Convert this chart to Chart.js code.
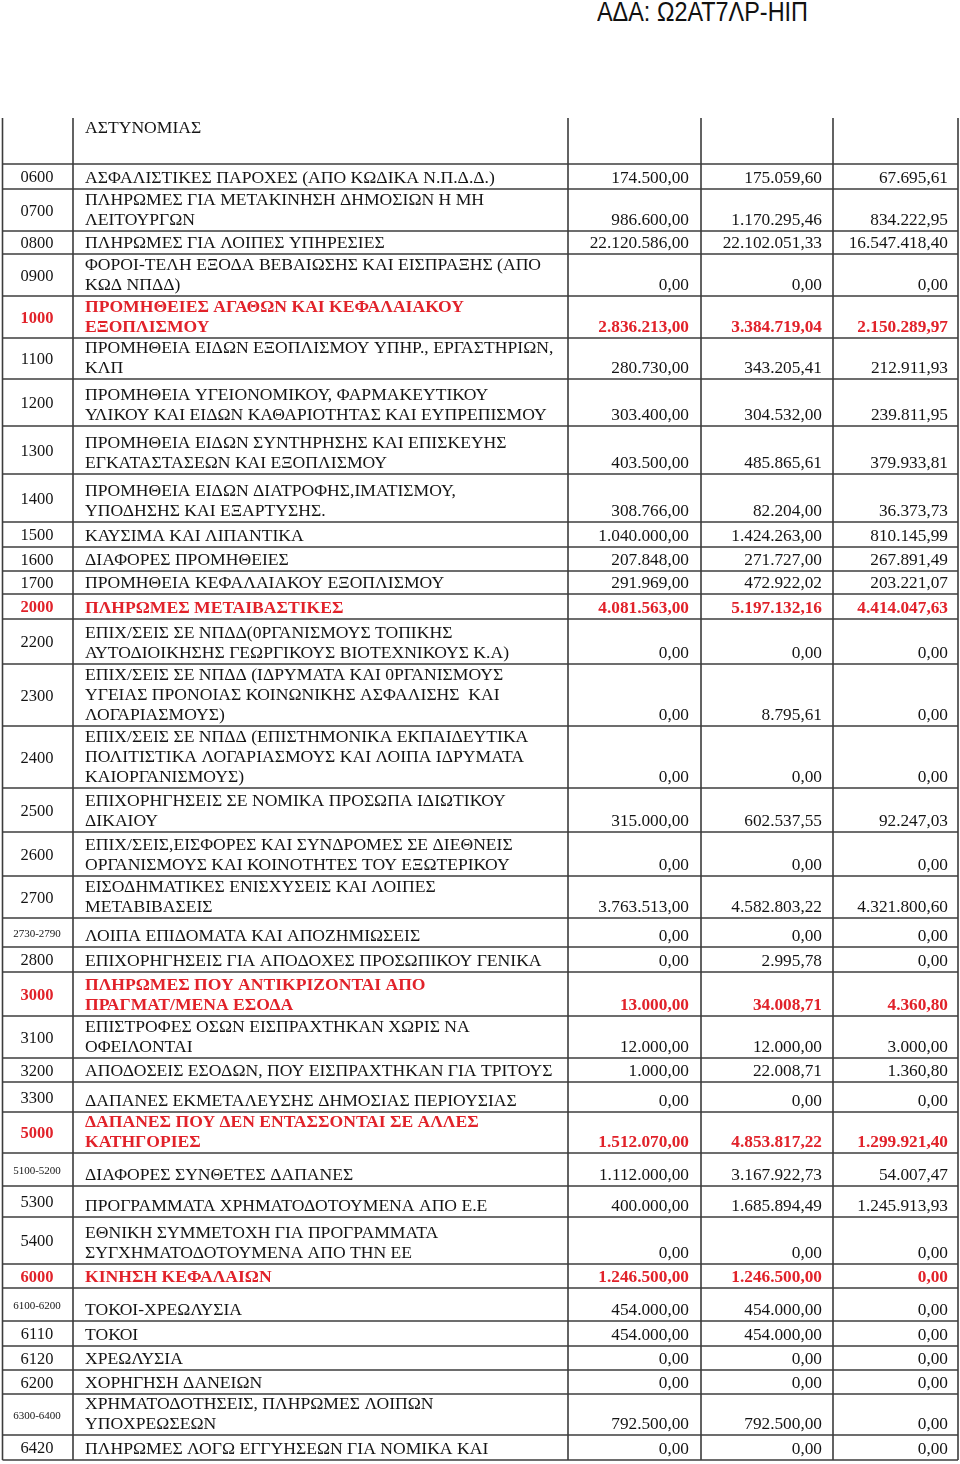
<!DOCTYPE html>
<html>
<head>
<meta charset="utf-8">
<script src="https://cdn.jsdelivr.net/npm/chart.js@4/dist/chart.umd.min.js"></script>
<style>
  html, body { margin: 0; padding: 0; background: #fff; }
  body { width: 960px; height: 1464px; position: relative; overflow: hidden; }
  #ada { position: absolute; left: 597px; top: -3px; font-family: "Liberation Sans", Arial, sans-serif;
         font-size: 27px; color: #111; white-space: nowrap; transform-origin: 0 0; }
  #wrap { position: absolute; left: 0; top: 118px; width: 960px; height: 1344px; }
</style>
</head>
<body>
<div id="ada">ΑΔΑ: Ω2ΑΤ7ΛΡ-ΗΙΠ</div>
<div id="wrap"><canvas id="tableChart" width="960" height="1344"></canvas></div>
<script>
// κωδικοί γραμμών
var codes = ['', '0600', '0700', '0800', '0900', '1000', '1100', '1200', '1300', '1400', '1500', '1600', '1700',
    '2000', '2200', '2300', '2400', '2500', '2600', '2700', '2730-2790', '2800', '3000', '3100', '3200', '3300',
    '5000', '5100-5200', '5300', '5400', '6000', '6100-6200', '6110', '6120', '6200', '6300-6400', '6420'];

var descriptions = [
    ['ΑΣΤΥΝΟΜΙΑΣ'],
    ['ΑΣΦΑΛΙΣΤΙΚΕΣ ΠΑΡΟΧΕΣ (ΑΠΟ ΚΩΔΙΚΑ Ν.Π.Δ.Δ.)'],
    ['ΠΛΗΡΩΜΕΣ ΓΙΑ ΜΕΤΑΚΙΝΗΣΗ ΔΗΜΟΣΙΩΝ Η ΜΗ', 'ΛΕΙΤΟΥΡΓΩΝ'],
    ['ΠΛΗΡΩΜΕΣ ΓΙΑ ΛΟΙΠΕΣ ΥΠΗΡΕΣΙΕΣ'],
    ['ΦΟΡΟΙ-ΤΕΛΗ ΕΞΟΔΑ ΒΕΒΑΙΩΣΗΣ ΚΑΙ ΕΙΣΠΡΑΞΗΣ (ΑΠΟ', 'ΚΩΔ ΝΠΔΔ)'],
    ['ΠΡΟΜΗΘΕΙΕΣ ΑΓΑΘΩΝ ΚΑΙ ΚΕΦΑΛΑΙΑΚΟΥ', 'ΕΞΟΠΛΙΣΜΟΥ'],
    ['ΠΡΟΜΗΘΕΙΑ ΕΙΔΩΝ ΕΞΟΠΛΙΣΜΟΥ ΥΠΗΡ., ΕΡΓΑΣΤΗΡΙΩΝ,', 'ΚΛΠ'],
    ['ΠΡΟΜΗΘΕΙΑ ΥΓΕΙΟΝΟΜΙΚΟΥ, ΦΑΡΜΑΚΕΥΤΙΚΟΥ', 'ΥΛΙΚΟΥ ΚΑΙ ΕΙΔΩΝ ΚΑΘΑΡΙΟΤΗΤΑΣ ΚΑΙ ΕΥΠΡΕΠΙΣΜΟΥ'],
    ['ΠΡΟΜΗΘΕΙΑ ΕΙΔΩΝ ΣΥΝΤΗΡΗΣΗΣ ΚΑΙ ΕΠΙΣΚΕΥΗΣ', 'ΕΓΚΑΤΑΣΤΑΣΕΩΝ ΚΑΙ ΕΞΟΠΛΙΣΜΟΥ'],
    ['ΠΡΟΜΗΘΕΙΑ ΕΙΔΩΝ ΔΙΑΤΡΟΦΗΣ,ΙΜΑΤΙΣΜΟΥ,', 'ΥΠΟΔΗΣΗΣ ΚΑΙ ΕΞΑΡΤΥΣΗΣ.'],
    ['ΚΑΥΣΙΜΑ ΚΑΙ ΛΙΠΑΝΤΙΚΑ'],
    ['ΔΙΑΦΟΡΕΣ ΠΡΟΜΗΘΕΙΕΣ'],
    ['ΠΡΟΜΗΘΕΙΑ ΚΕΦΑΛΑΙΑΚΟΥ ΕΞΟΠΛΙΣΜΟΥ'],
    ['ΠΛΗΡΩΜΕΣ ΜΕΤΑΙΒΑΣΤΙΚΕΣ'],
    ['ΕΠΙΧ/ΣΕΙΣ ΣΕ ΝΠΔΔ(0ΡΓΑΝΙΣΜΟΥΣ ΤΟΠΙΚΗΣ', 'ΑΥΤΟΔΙΟΙΚΗΣΗΣ ΓΕΩΡΓΙΚΟΥΣ ΒΙΟΤΕΧΝΙΚΟΥΣ Κ.Α)'],
    ['ΕΠΙΧ/ΣΕΙΣ ΣΕ ΝΠΔΔ (ΙΔΡΥΜΑΤΑ ΚΑΙ 0ΡΓΑΝΙΣΜΟΥΣ', 'ΥΓΕΙΑΣ ΠΡΟΝΟΙΑΣ ΚΟΙΝΩΝΙΚΗΣ ΑΣΦΑΛΙΣΗΣ  ΚΑΙ', 'ΛΟΓΑΡΙΑΣΜΟΥΣ)'],
    ['ΕΠΙΧ/ΣΕΙΣ ΣΕ ΝΠΔΔ (ΕΠΙΣΤΗΜΟΝΙΚΑ ΕΚΠΑΙΔΕΥΤΙΚΑ', 'ΠΟΛΙΤΙΣΤΙΚΑ ΛΟΓΑΡΙΑΣΜΟΥΣ ΚΑΙ ΛΟΙΠΑ ΙΔΡΥΜΑΤΑ', 'ΚΑΙΟΡΓΑΝΙΣΜΟΥΣ)'],
    ['ΕΠΙΧΟΡΗΓΗΣΕΙΣ ΣΕ ΝΟΜΙΚΑ ΠΡΟΣΩΠΑ ΙΔΙΩΤΙΚΟΥ', 'ΔΙΚΑΙΟΥ'],
    ['ΕΠΙΧ/ΣΕΙΣ,ΕΙΣΦΟΡΕΣ ΚΑΙ ΣΥΝΔΡΟΜΕΣ ΣΕ ΔΙΕΘΝΕΙΣ', 'ΟΡΓΑΝΙΣΜΟΥΣ ΚΑΙ ΚΟΙΝΟΤΗΤΕΣ ΤΟΥ ΕΞΩΤΕΡΙΚΟΥ'],
    ['ΕΙΣΟΔΗΜΑΤΙΚΕΣ ΕΝΙΣΧΥΣΕΙΣ ΚΑΙ ΛΟΙΠΕΣ', 'ΜΕΤΑΒΙΒΑΣΕΙΣ'],
    ['ΛΟΙΠΑ ΕΠΙΔΟΜΑΤΑ ΚΑΙ ΑΠΟΖΗΜΙΩΣΕΙΣ'],
    ['ΕΠΙΧΟΡΗΓΗΣΕΙΣ ΓΙΑ ΑΠΟΔΟΧΕΣ ΠΡΟΣΩΠΙΚΟΥ ΓΕΝΙΚΑ'],
    ['ΠΛΗΡΩΜΕΣ ΠΟΥ ΑΝΤΙΚΡΙΖΟΝΤΑΙ ΑΠΟ', 'ΠΡΑΓΜΑΤ/ΜΕΝΑ ΕΣΟΔΑ'],
    ['ΕΠΙΣΤΡΟΦΕΣ ΟΣΩΝ ΕΙΣΠΡΑΧΤΗΚΑΝ ΧΩΡΙΣ ΝΑ', 'ΟΦΕΙΛΟΝΤΑΙ'],
    ['ΑΠΟΔΟΣΕΙΣ ΕΣΟΔΩΝ, ΠΟΥ ΕΙΣΠΡΑΧΤΗΚΑΝ ΓΙΑ ΤΡΙΤΟΥΣ'],
    ['ΔΑΠΑΝΕΣ ΕΚΜΕΤΑΛΕΥΣΗΣ ΔΗΜΟΣΙΑΣ ΠΕΡΙΟΥΣΙΑΣ'],
    ['ΔΑΠΑΝΕΣ ΠΟΥ ΔΕΝ ΕΝΤΑΣΣΟΝΤΑΙ ΣΕ ΑΛΛΕΣ', 'ΚΑΤΗΓΟΡΙΕΣ'],
    ['ΔΙΑΦΟΡΕΣ ΣΥΝΘΕΤΕΣ ΔΑΠΑΝΕΣ'],
    ['ΠΡΟΓΡΑΜΜΑΤΑ ΧΡΗΜΑΤΟΔΟΤΟΥΜΕΝΑ ΑΠΟ Ε.Ε'],
    ['ΕΘΝΙΚΗ ΣΥΜΜΕΤΟΧΗ ΓΙΑ ΠΡΟΓΡΑΜΜΑΤΑ', 'ΣΥΓΧΗΜΑΤΟΔΟΤΟΥΜΕΝΑ ΑΠΟ ΤΗΝ ΕΕ'],
    ['ΚΙΝΗΣΗ ΚΕΦΑΛΑΙΩΝ'],
    ['ΤΟΚΟΙ-ΧΡΕΩΛΥΣΙΑ'],
    ['ΤΟΚΟΙ'],
    ['ΧΡΕΩΛΥΣΙΑ'],
    ['ΧΟΡΗΓΗΣΗ ΔΑΝΕΙΩΝ'],
    ['ΧΡΗΜΑΤΟΔΟΤΗΣΕΙΣ, ΠΛΗΡΩΜΕΣ ΛΟΙΠΩΝ', 'ΥΠΟΧΡΕΩΣΕΩΝ'],
    ['ΠΛΗΡΩΜΕΣ ΛΟΓΩ ΕΓΓΥΗΣΕΩΝ ΓΙΑ ΝΟΜΙΚΑ ΚΑΙ']
];

var budgeted = [null, 174500.00, 986600.00, 22120586.00, 0, 2836213.00, 280730.00, 303400.00, 403500.00, 308766.00,
    1040000.00, 207848.00, 291969.00, 4081563.00, 0, 0, 0, 315000.00, 0, 3763513.00, 0, 0, 13000.00, 12000.00,
    1000.00, 0, 1512070.00, 1112000.00, 400000.00, 0, 1246500.00, 454000.00, 454000.00, 0, 0, 792500.00, 0];

var revised = [null, 175059.60, 1170295.46, 22102051.33, 0, 3384719.04, 343205.41, 304532.00, 485865.61, 82204.00,
    1424263.00, 271727.00, 472922.02, 5197132.16, 0, 8795.61, 0, 602537.55, 0, 4582803.22, 0, 2995.78, 34008.71,
    12000.00, 22008.71, 0, 4853817.22, 3167922.73, 1685894.49, 0, 1246500.00, 454000.00, 454000.00, 0, 0, 792500.00, 0];

var paid = [null, 67695.61, 834222.95, 16547418.40, 0, 2150289.97, 212911.93, 239811.95, 379933.81, 36373.73,
    810145.99, 267891.49, 203221.07, 4414047.63, 0, 0, 0, 92247.03, 0, 4321800.60, 0, 0, 4360.80, 3000.00,
    1360.80, 0, 1299921.40, 54007.47, 1245913.93, 0, 0, 0, 0, 0, 0, 0, 0];

var highlighted = ['1000', '2000', '3000', '5000', '6000'];

// διάταξη (ύψη γραμμών σε px, στήλες)
var rowHeights = [46, 25, 42, 23, 42, 42, 41, 47, 48, 48, 25, 24, 23, 25, 45, 62, 62, 44, 44, 42, 29, 25, 44, 42,
    24, 30, 41, 33, 31, 47, 24, 33, 25, 24, 24, 41, 25];
var colLines = [2.5, 73, 568, 701, 833, 958];
var codeCenter = 37, descLeft = 85, valueRight = [689, 822, 948];
var lineGap = 20, bottomPad = 6;
var RED = '#e1222a', INK = '#141414', GRID = '#3c3c3c';
var SERIF = '"Liberation Serif", "Times New Roman", serif';

function fmt(v) {
    if (v === null || v === undefined) return '';
    var parts = v.toFixed(2).split('.');
    return parts[0].replace(/\B(?=(\d{3})+(?!\d))/g, '.') + ',' + parts[1];
}

var tablePlugin = {
    id: 'budgetTable',
    afterDraw: function(chart) {
        var ctx = chart.ctx, xs = chart.scales.x, ys = chart.scales.y;
        var px = function(v) { return xs.getPixelForValue(v); };
        var py = function(v) { return ys.getPixelForValue(v); };
        var total = rowHeights.reduce(function(a, b) { return a + b; }, 0);
        var series = [budgeted, revised, paid];

        ctx.save();
        ctx.strokeStyle = GRID;
        ctx.lineWidth = 1.6;
        colLines.forEach(function(x) {
            ctx.beginPath();
            ctx.moveTo(px(x), py(0));
            ctx.lineTo(px(x), py(total));
            ctx.stroke();
        });

        var top = 0;
        rowHeights.forEach(function(h, i) {
            var bottom = top + h;
            ctx.beginPath();
            ctx.moveTo(px(colLines[0]), py(bottom));
            ctx.lineTo(px(colLines[colLines.length - 1]), py(bottom));
            ctx.stroke();

            var hot = highlighted.indexOf(codes[i]) >= 0;
            ctx.fillStyle = hot ? RED : INK;
            ctx.textBaseline = 'alphabetic';

            // κωδικός
            if (codes[i]) {
                var small = codes[i].indexOf('-') >= 0;
                ctx.font = (hot ? 'bold ' : '') + (small ? '11px ' : '16.5px ') + SERIF;
                ctx.textAlign = 'center';
                ctx.fillText(codes[i], px(codeCenter), py(top + h / 2 + (small ? 4 : 5.5)));
            }

            // περιγραφή
            var lines = descriptions[i];
            ctx.font = (hot ? 'bold ' : '') + '17.6px ' + SERIF;
            ctx.textAlign = 'left';
            lines.forEach(function(txt, k) {
                var y = (i === 0) ? top + 15 + k * lineGap
                    : bottom - bottomPad - (lines.length - 1 - k) * lineGap;
                ctx.fillText(txt, px(descLeft), py(y));
            });

            // ποσά
            ctx.font = (hot ? 'bold ' : '') + '17.3px ' + SERIF;
            ctx.textAlign = 'right';
            series.forEach(function(s, c) {
                var t = fmt(s[i]);
                if (t) ctx.fillText(t, px(valueRight[c]), py(bottom - bottomPad));
            });
            top = bottom;
        });
        ctx.restore();
    }
};

var canvas = document.getElementById('tableChart');
new Chart(canvas, {
    type: 'scatter',
    data: { datasets: [] },
    options: {
        responsive: false,
        animation: false,
        events: [],
        layout: { padding: 0 },
        plugins: { legend: { display: false }, tooltip: { enabled: false } },
        scales: {
            x: { type: 'linear', min: 0, max: 960, display: false },
            y: { type: 'linear', min: 0, max: 1344, reverse: true, display: false }
        }
    },
    plugins: [tablePlugin]
});

// κεφαλίδα ΑΔΑ σε στενή γραμματοσειρά
var ada = document.getElementById('ada');
var w = ada.getBoundingClientRect().width;
if (w > 0) ada.style.transform = 'scaleX(' + (211 / w) + ')';
</script>
</body>
</html>
